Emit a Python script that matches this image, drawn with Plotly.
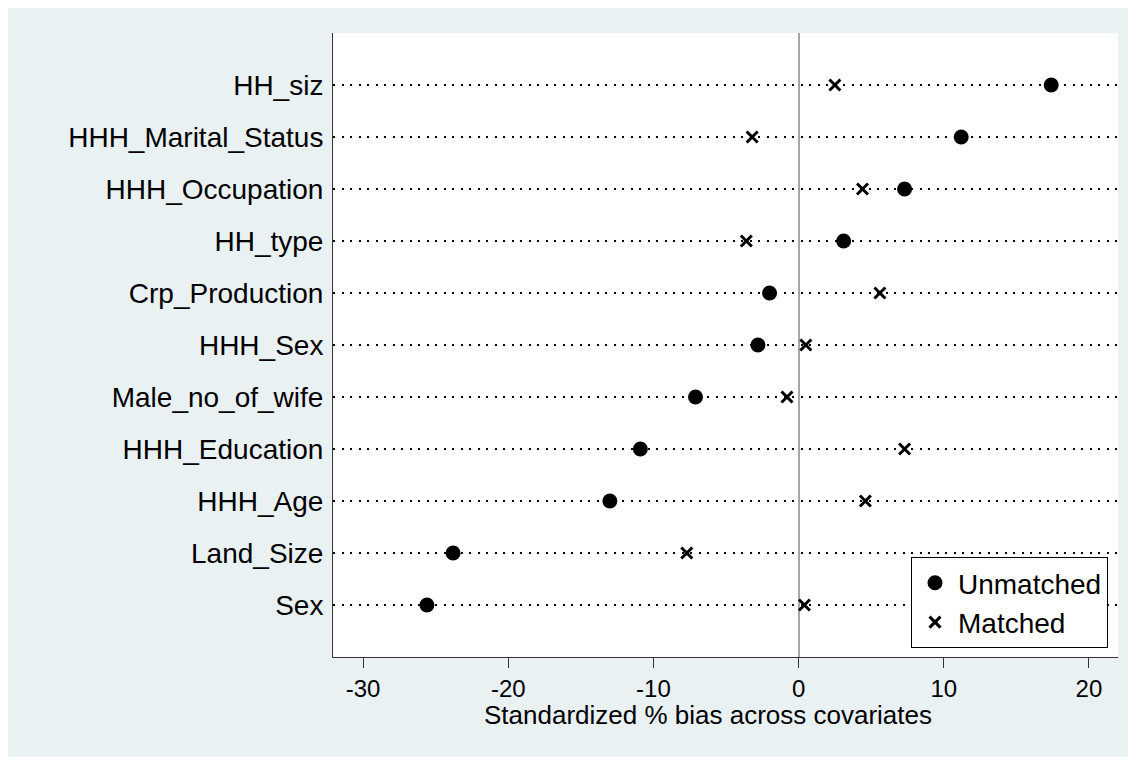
import plotly.graph_objects as go

covariates = ["HH_siz", "HHH_Marital_Status", "HHH_Occupation", "HH_type",
              "Crp_Production", "HHH_Sex", "Male_no_of_wife", "HHH_Education",
              "HHH_Age", "Land_Size", "Sex"]
unmatched = [17.4, 11.2, 7.3, 3.1, -2.0, -2.8, -7.1, -10.9, -13.0, -23.8, -25.6]
matched = [2.5, -3.2, 4.4, -3.6, 5.6, 0.5, -0.8, 7.3, 4.6, -7.7, 0.4]
x_ticks = [-30, -20, -10, 0, 10, 20]

# the page body adds an 8px margin; the figure fills the rest of the window
OFF = 8
W, H = 1136 - OFF, 757 - OFF
L, R, T, B = 333 - OFF, 18, 33 - OFF, 100
pw, ph = W - L - R, H - T - B


def px_x(p):  # screen pixel -> paper x
    return (p - OFF - L) / pw


def px_y(p):  # screen pixel -> paper y
    return (H - B - (p - OFF)) / ph


FONT = "Liberation Sans, Arial, Helvetica, sans-serif"
BG = "#e9f1f3"

fig = go.Figure()
fig.add_trace(go.Scatter(
    x=unmatched, y=covariates, mode="markers", name="Unmatched",
    marker=dict(symbol="circle", size=15, color="black"),
))
fig.add_trace(go.Scatter(
    x=matched, y=covariates, mode="markers", name="Matched",
    marker=dict(symbol="x-thin-open", size=11, color="black",
                line=dict(color="black", width=3)),
))

fig.update_layout(
    width=W, height=H,
    margin=dict(l=L, r=R, t=T, b=B, pad=0),
    paper_bgcolor=BG, plot_bgcolor="white",
    font=dict(family=FONT, color="black"),
    showlegend=True,
    legend=dict(
        x=px_x(1108), xanchor="right", y=px_y(648), yanchor="bottom",
        bgcolor="white", bordercolor="black", borderwidth=1,
        font=dict(size=28, family=FONT, color="black"),
        itemsizing="trace", tracegroupgap=0, itemwidth=36,
    ),
    xaxis=dict(
        range=[-32.07, 22.0], tickvals=x_ticks, ticktext=[str(v) for v in x_ticks],
        showgrid=False, zeroline=True, zerolinecolor="#a6a6a6", zerolinewidth=2.2,
        showline=True, linecolor="#333333", linewidth=1, mirror=False,
        ticks="outside", ticklen=10, tickwidth=1, tickcolor="#333333",
        tickfont=dict(size=24, family=FONT, color="black"),
    ),
    yaxis=dict(
        type="category", categoryorder="array", categoryarray=covariates[::-1],
        range=[-1, len(covariates)],
        showgrid=True, gridcolor="black", gridwidth=2, griddash="2px,6.5px",
        zeroline=False, showline=True, linecolor="#333333", linewidth=1,
        ticks="", ticklabelstandoff=3,
        tickfont=dict(size=28, family=FONT, color="black"),
    ),
    annotations=[dict(
        text="Standardized % bias across covariates", xref="paper", yref="paper",
        x=px_x(708), y=px_y(715), xanchor="center", yanchor="middle",
        showarrow=False, font=dict(size=26, family=FONT, color="black"),
    )],
)

fig.write_html("out.html")
